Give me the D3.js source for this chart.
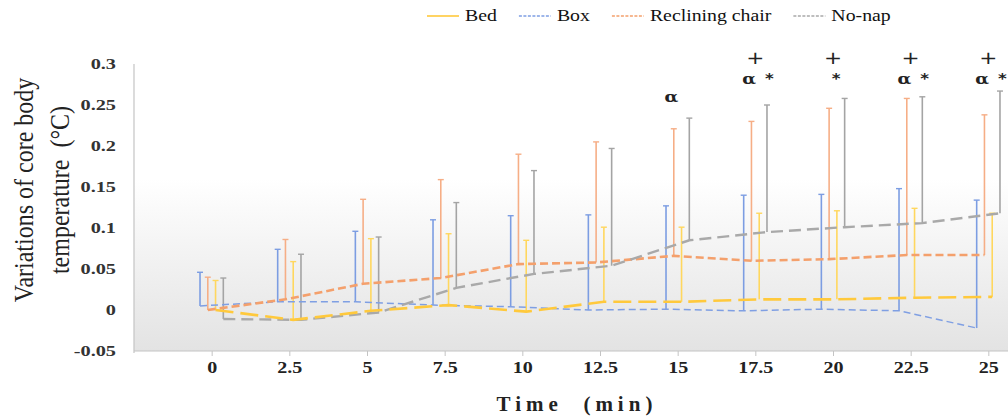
<!DOCTYPE html>
<html>
<head>
<meta charset="utf-8">
<script src="https://cdn.jsdelivr.net/npm/d3@7"></script>
<style>
  html, body { margin: 0; padding: 0; background: #fff; }
  svg { display: block; }
</style>
</head>
<body>
<div id="chart"></div>
<script>
// ---------- DATA ----------
const times = [0, 2.5, 5, 7.5, 10, 12.5, 15, 17.5, 20, 22.5, 25];
const xTickLabels = ["0", "2.5", "5", "7.5", "10", "12.5", "15", "17.5", "20", "22.5", "25"];
const yTickValues = [-0.05, 0, 0.05, 0.1, 0.15, 0.2, 0.25, 0.3];
const yTickLabels = ["-0.05", "0", "0.05", "0.1", "0.15", "0.2", "0.25", "0.3"];

const seriesNames = ["Bed", "Box", "Reclining chair", "No-nap"];

const bedMean = [0.000, -0.012, -0.001, 0.006, -0.002, 0.010, 0.010, 0.013, 0.013, 0.015, 0.016];
const bedSD   = [0.036, 0.071, 0.088, 0.087, 0.087, 0.091, 0.091, 0.105, 0.108, 0.109, 0.102];

const boxMean = [0.005, 0.010, 0.010, 0.006, 0.004, 0.000, 0.001, -0.001, 0.001, -0.001, -0.022];
const boxSD   = [0.041, 0.064, 0.086, 0.104, 0.111, 0.116, 0.126, 0.141, 0.140, 0.149, 0.156];

const reclMean = [0.000, 0.013, 0.032, 0.039, 0.056, 0.058, 0.066, 0.060, 0.062, 0.067, 0.067];
const reclSD   = [0.040, 0.073, 0.103, 0.120, 0.134, 0.147, 0.155, 0.170, 0.184, 0.191, 0.171];

const napMean = [-0.011, -0.012, -0.003, 0.027, 0.044, 0.054, 0.085, 0.095, 0.101, 0.106, 0.118];
const napSD   = [0.050, 0.080, 0.092, 0.104, 0.126, 0.143, 0.149, 0.155, 0.157, 0.154, 0.149];

// significance marks: time and symbol
const annotTimes   = [15, 17.5, 17.5, 17.5, 20, 20, 22.5, 22.5, 22.5, 25, 25, 25];
const annotSymbols = ["α", "+", "α", "*", "+", "*", "+", "α", "*", "+", "α", "*"];

// ---------- STYLE ----------
const W = 1008, H = 419;
const styles = {
  "Bed":             { color: "#FFC93C", bar: "#FFD75E", dash: "18,7", width: 2.6, shift: 0.125 },
  "Box":             { color: "#7F9FE3", bar: "#7C9DE2", dash: "7,4",  width: 1.5, shift: -0.375 },
  "Reclining chair": { color: "#F4A06C", bar: "#F6AE86", dash: "8,4",  width: 2.6, shift: -0.125 },
  "No-nap":          { color: "#A9A9A9", bar: "#A4A4A4", dash: "12,6", width: 2.4, shift: 0.375 }
};
const series = [
  { name: "Box", mean: boxMean, sd: boxSD },
  { name: "Reclining chair", mean: reclMean, sd: reclSD },
  { name: "No-nap", mean: napMean, sd: napSD },
  { name: "Bed", mean: bedMean, sd: bedSD }
];

const svg = d3.select("#chart").append("svg").attr("width", W).attr("height", H);

const x = d3.scaleLinear().domain([-2.5, 27.5]).range([134, 1066]);
const y = d3.scaleLinear().domain([-0.05, 0.3]).range([351, 64]);

// background gradient
const defs = svg.append("defs");
const grad = defs.append("linearGradient").attr("id", "bg").attr("x1", 0).attr("x2", 0).attr("y1", 0).attr("y2", 1);
grad.append("stop").attr("offset", "0%").attr("stop-color", "#ffffff");
grad.append("stop").attr("offset", "40%").attr("stop-color", "#ffffff");
grad.append("stop").attr("offset", "100%").attr("stop-color", "#e3e3e3");

svg.append("rect")
  .attr("x", x(-2.5)).attr("y", y(0.3))
  .attr("width", x(27.5) - x(-2.5)).attr("height", y(-0.05) - y(0.3))
  .attr("fill", "url(#bg)");

// axes lines
svg.append("line").attr("x1", x(-2.5)).attr("x2", x(-2.5)).attr("y1", y(0.3)).attr("y2", y(-0.05) + 2)
  .attr("stroke", "#c4c4c4").attr("stroke-width", 1.2);
svg.append("line").attr("x1", x(-2.5)).attr("x2", W).attr("y1", y(-0.05)).attr("y2", y(-0.05))
  .attr("stroke", "#c4c4c4").attr("stroke-width", 1.2);

// x axis ticks and labels
const xAxis = d3.axisBottom(x).tickValues(times).tickFormat((d, i) => xTickLabels[i]).tickSize(5).tickPadding(5);
const gx = svg.append("g").attr("transform", `translate(0,${y(-0.05)})`).call(xAxis);
gx.select(".domain").remove();
gx.selectAll(".tick line").attr("stroke", "#c4c4c4");
gx.selectAll(".tick text")
  .attr("font-family", "Liberation Serif, serif").attr("font-weight", "bold")
  .attr("font-size", 17).attr("fill", "#222")
  .attr("transform", "scale(1.18,1)");

// y axis labels
const yStretch = 1.4;
const yAxis = d3.axisLeft(y).tickValues(yTickValues).tickFormat((d, i) => yTickLabels[i]).tickSize(0).tickPadding(18);
const gy = svg.append("g").attr("transform", `translate(${x(-2.5)},0)`).call(yAxis);
gy.select(".domain").remove();
gy.selectAll(".tick text")
  .attr("font-family", "Liberation Serif, serif").attr("font-weight", "bold")
  .attr("font-size", 14.5).attr("fill", "#333")
  .attr("x", -18 / yStretch)
  .attr("transform", `scale(${yStretch},1)`);

// lines
const lineGen = (s) => d3.line()
  .x((d, i) => x(times[i] + styles[s.name].shift))
  .y(d => y(d));

const drawOrder = ["Box", "Reclining chair", "No-nap", "Bed"];

// error bars
series.forEach(s => {
  const st = styles[s.name];
  const g = svg.append("g");
  times.forEach((t, i) => {
    const cx = x(t + st.shift);
    const y0 = y(s.mean[i]);
    const y1 = y(s.mean[i] + s.sd[i]);
    g.append("line").attr("x1", cx).attr("x2", cx).attr("y1", y0).attr("y2", y1)
      .attr("stroke", st.bar).attr("stroke-width", 1.6);
    g.append("line").attr("x1", cx - 3).attr("x2", cx + 3).attr("y1", y1).attr("y2", y1)
      .attr("stroke", st.bar).attr("stroke-width", 1.4);
  });
});

drawOrder.forEach(name => {
  const s = series.find(d => d.name === name);
  const st = styles[name];
  svg.append("path").datum(s.mean)
    .attr("d", lineGen(s))
    .attr("fill", "none")
    .attr("stroke", st.color)
    .attr("stroke-width", st.width)
    .attr("stroke-dasharray", st.dash);
});

// annotations
const annotStyle = {
  "+": { dx: 0, y: 0.307 },
  "α": { dx: -0.2, y: 0.282 },
  "*": { dx: 0.45, y: 0.282 }
};
annotTimes.forEach((t, i) => {
  const sym = annotSymbols[i];
  const st = annotStyle[sym];
  let dx = st.dx, yy = st.y;
  const hasAlpha = annotTimes.some((t2, j) => t2 === t && annotSymbols[j] === "α");
  const hasPlus = annotTimes.some((t2, j) => t2 === t && annotSymbols[j] === "+");
  if (sym === "*" && !hasAlpha) dx = 0.1;
  if (sym === "α" && !hasPlus) yy = 0.26;
  svg.append("text")
    .attr("transform", `translate(${x(t + dx)},${y(yy)}) scale(1.2,1)`)
    .attr("text-anchor", "middle").attr("dominant-baseline", "central")
    .attr("font-family", sym === "α" ? "DejaVu Serif, serif" : "DejaVu Sans, sans-serif")
    .attr("font-weight", sym === "+" ? "normal" : "bold")
    .attr("font-size", sym === "+" ? 18 : (sym === "*" ? 14 : 15))
    .attr("fill", "#222")
    .text(sym);
});

// axis titles
const yTitle = svg.append("text")
  .attr("transform", `translate(23,190) scale(1.15,1) rotate(-90)`)
  .attr("text-anchor", "middle")
  .attr("font-family", "Liberation Serif, serif").attr("font-size", 24).attr("fill", "#222");
yTitle.append("tspan").attr("x", 0).attr("dy", "0.35em").text("Variations of core body");
yTitle.append("tspan").attr("x", 0).attr("dy", 31.5).text("temperature\u00a0\u00a0(°C)");

svg.append("text")
  .attr("x", 577).attr("y", 411)
  .attr("text-anchor", "middle")
  .attr("font-family", "Liberation Serif, serif").attr("font-weight", "bold")
  .attr("font-size", 21).attr("letter-spacing", 5).attr("fill", "#222")
  .text("Time\u00a0\u00a0(min)");

// legend
const legendItems = ["Bed", "Box", "Reclining chair", "No-nap"];
const legStretch = 1.2;
let lx = 427;
const ly = 16;
legendItems.forEach(name => {
  const st = styles[name];
  svg.append("line").attr("x1", lx).attr("x2", lx + 32).attr("y1", ly).attr("y2", ly)
    .attr("stroke", st.color).attr("stroke-width", 1.6)
    .attr("stroke-dasharray", name === "Bed" ? null : "3,1.5");
  const t = svg.append("text")
    .attr("transform", `translate(${lx + 38},${ly}) scale(${legStretch},1)`)
    .attr("dominant-baseline", "central")
    .attr("font-family", "Liberation Serif, serif").attr("font-size", 16.5).attr("fill", "#111")
    .text(name);
  lx += 38 + t.node().getComputedTextLength() * legStretch + 22;
});
</script>
</body>
</html>
